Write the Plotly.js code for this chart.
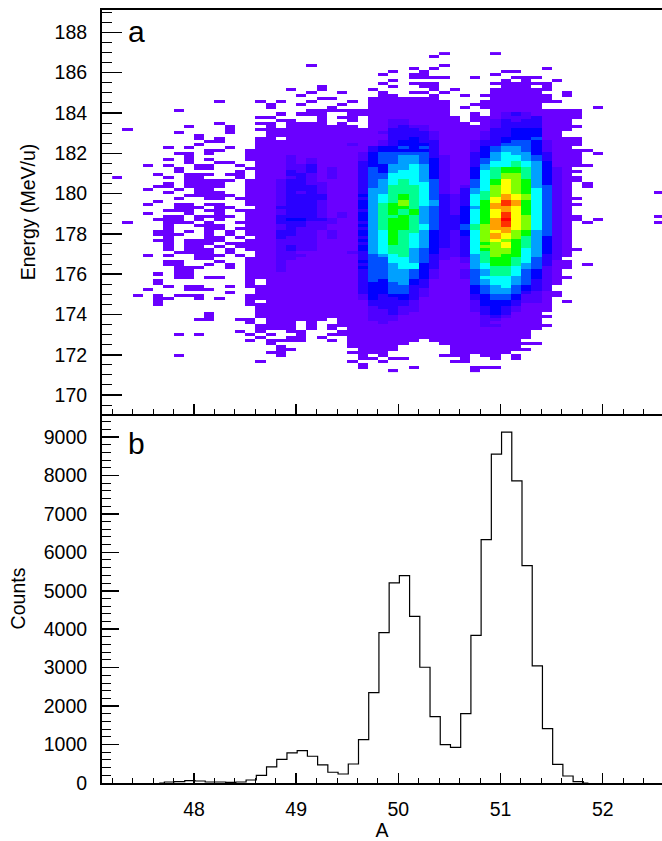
<!DOCTYPE html>
<html><head><meta charset="utf-8">
<script src="https://cdn.plot.ly/plotly-3.0.1.min.js"></script>
<style>html,body{margin:0;padding:0;background:#fff}</style></head>
<body><div id="chart" style="width:662px;height:841px"></div>
<script>
// Panel b: counts per 0.1 A bin
const binCenters = [47.66,47.76,47.86,47.96,48.06,48.16,48.26,48.36,48.46,48.56,48.66,48.76,48.86,48.96,49.06,49.16,49.26,49.36,49.46,49.56,49.66,49.76,49.86,49.96,50.06,50.16,50.26,50.36,50.46,50.56,50.66,50.76,50.86,50.96,51.06,51.16,51.26,51.36,51.46,51.56,51.66,51.76,51.86];
const binCounts = [0,26,35,60,52,26,26,17,26,78,200,417,617,783,843,696,470,280,234,494,1127,2350,3911,5204,5395,4336,3010,1726,997,928,1804,3842,6331,8551,9124,7858,5655,3044,1414,486,182,35,0];
// Panel a: one string per energy row (top to bottom), one character per 0.1 A column from 47.2.
// '.' = empty, 1-9,a-e = intensity level. Spaces only group the columns by ten.
const energyRows = [
".......... .......... .......... ..1....1..",
".......... .......... .......... .1........",
"",
"",
".......... .........1 .......... ..1.......",
".......... .......... .........1 .1........ ..1.......",
".......... .......... .......1.. 1.......11",
".......... .......... ......1..1 1......1..",
".......... .......... .........1 111..1...1 11........",
".......... .......... .......1.. ........1. 1..1......",
".......... .......... ......1..1 11.....111 111.......",
".......... .......... 1......1.. 11......11 1.1.......",
".......... .......1.. 1....1.... .1.1...111 111.......",
".......... .........1 ..1...1..1 1.1....111 11..1.....",
".......... ........1. ......11.. .1..1.1111 111.1.....",
".......... .......... 11...11111 11.....111 111.......",
".......... 1...1.1..1 ...1.11111 111...1111 1111......",
".......... .....1..1. ..1..11111 111..11111 11........",
".......... .....1.... .1...11111 111.1.1111 11.....1..",
"......1... .........1 1111111111 111....111 111111....",
".......... ......1.11 1..1111111 111..1.123 211111....",
".......... ....11.... 1.11.11111 1111.11122 231111....",
".......... ......11.. 1..1.11221 1111.11232 33111.....",
".......... 1...11.111 1.1..11221 11111.1233 33111.....",
".......1.. .1...1.111 1111.11232 2111111233 331111....",
".1........ .1..111111 1111111333 2111111334 44111.....",
"......1... .1...11111 1111112333 3211112334 4411......",
"........1. .....11111 1111111333 3211112334 4411......",
"........1. 1...11.111 1111111334 3211112344 451111....",
".........1 1...111111 1111112344 3311123345 542111....",
"........1. ....111111 1112112344 4311123355 542111....",
".....1.1.. .1..111111 1111134454 5311124566 54211.....",
".........1 1..1111111 1111134444 4311124566 5421111...",
"......11.1 ...1111111 1111245555 5311134676 643111.1..",
".......1.. ...1111211 1111245566 5321134677 653111....",
".....1.1.1 ...1111212 1111245566 5421135677 653111....",
".......1.. 11..111212 1111345566 5421135778 764111....",
"...1.1..11 ..1.111223 1111344667 6421136778 7641111...",
"......1.11 ...1111223 1211354667 6421146899 86421.....",
"......1... ..1.111323 1211354677 6421147899 864211....",
"....1..111 .11.111332 1211355777 64211478aa 86421.....",
"1....1.11. ..1.111232 1211355777 64211478aa 864211....",
".......111 11.1112332 1111356787 65211579ba 964211....",
".....1.111 1..1112332 2111356787 75211579ba 96421.1...",
"....11.111 1..1112333 2111356888 7521257aba 96521.1...",
"...1..1.11 ...1112333 2111366888 7521367aba 97521.....",
".....1..11 1..1112323 2111366888 7521368aba 97521..... ...1",
".......111 11.1112333 3111467898 7532378acb a7521.....",
"......1..1 1.11112333 3111367898 7532378bcb a75211....",
"....1..... ...1112333 21114678a8 7632379bdc 97521.....",
"...1..11.1 1..1112333 21114689a8 7632379cdc 975211....",
"......111. 11..113333 2111468998 6532469ccb 97521.....",
".....111.1 1.11112333 2111368989 6532479bcb 97521.....",
"...1...1.. 1..1112333 2121468989 6532479bdb 97521.....",
".....11.11 11.1113333 2121468898 6533479bdb a75211.... ...1",
"....111.1. 1..1113443 3211468998 6533479ceb a75211.1..",
".1...111.1 ..11113332 2211368998 6533479cdb a7521.1... ...1",
".....1..11 1..1112332 2111468998 753358acdb a7521.....",
".....1...1 1.11112322 2111368998 753358accb a7521.....",
"....11.1.1 .1.1113322 1211467988 643247abca 96521.....",
"....111..1 .1.1113322 1211467987 643247acba 96521.....",
".....1...1 1.1.113222 1211367987 643237acba 86421.....",
"....11.111 1..1112222 1111467987 643237aba9 86421.....",
".....1.111 .111112222 1111367987 6432379ab9 86421.....",
".....1.11. 1.11112322 1111467887 643237aab9 86421.....",
".....1.111 .1.1112322 1111467886 5422379aa9 764211....",
"......1111 .1..112211 1112367886 5422378aa9 76421.....",
"...1.1..11 1.1.112221 1111356786 5322368a99 76321.....",
"........11 ...1112211 1111355776 5321268998 7532......",
".....11... 1..1112111 1111455776 5311268998 75311.....",
".....11..1 .1.1112111 1111355677 4311167998 65311.1...",
"......111. .1.1112111 1111455677 4311167887 65211.....",
"......11.. ...1112111 1111355665 4211256887 5421......",
"....1.11.. ...1111111 1111355665 4211256887 5421......",
"......11.1 1..1111111 1111355665 4211257776 54211.....",
"....1..... ...1.11111 1111354664 3111156776 5321......",
"....1..... ...1.11111 1111344564 3111156776 5321......",
".....1.11. .1.1111111 1111344553 3111145675 432.......",
"...1...111 ....111111 1111344553 2111145665 432.......",
".......... .1..111111 1111344553 2111145665 3211......",
"..1.1.111. ...1111111 1111243443 2111134554 2211......",
"....11..1. 1..1111111 1111243343 1111134554 221.......",
"....1..... ...1.11111 1111133332 1111124443 221.1.....",
"....1..... ...1111111 1111133332 1111124443 111.......",
".......... ....111111 1111123322 1111123432 111.......",
".......... ....111111 1111122322 1111123432 111.......",
".........1 ....111111 1111122321 1111113431 11........",
".........1 ....111111 1111122211 1111112321 111.......",
"........11 ..11.11111 1.11122211 1111112211 11........",
".......... ...1.111.1 ..11112111 1111112111 11........",
".......... ....1111.1 .111111111 1111112211 111.......",
".......... ....1111.1 .1.1111111 1111111111 11........",
".......... ..1.1..11. ..11111111 1111111111 1.........",
"......1.1. ...1.1..1. .111111111 1111111111 1.........",
".......... ....1..11. 1..1111111 1111111111 1.........",
".......... ...1.1111. .1.1111111 .111111111",
".......... .....1.... ...111111. ..11111111 11........",
".......... ......1... ...11111.. ...1111111",
".......... ......11.. ....1111.. ...1111111 1.........",
".......... .....11... ...1111... ...111111.",
"......1... ......1... ....1.1... ..111.11.1",
".......... .......... ....11.11. ....1..1.1",
".......... ....1..... ...1..1... ...11.....",
".......... .......... ....1.....",
".......... .......... ....1....1 .....111..",
".......... .......... .......1.. .....1....",
];
const levelColors = ["#6a00ff","#4f00ff","#2a00ff","#0000ff","#0050ff","#00a0ff","#00ffff","#00ff90","#00ff00","#80ff00","#ffff00","#ffa000","#ff3000","#ff0000"];
const xTickLabels = ["48","49","50","51","52"];
const energyTickLabels = ["170","172","174","176","178","180","182","184","186","188"];
const countTickLabels = ["0","1000","2000","3000","4000","5000","6000","7000","8000","9000"];

const nCols = 54;
const z = energyRows.map(r => {
  const s = r.replace(/ /g,"");
  const out = [];
  for (let i=0;i<nCols;i++){ const c = s[i]; out.push(c===undefined||c==="."?null:parseInt(c,16)); }
  return out;
});
const n = levelColors.length;
const cs = [];
levelColors.forEach((c,i)=>{ cs.push([i/n,c]); cs.push([(i+1)/n,c]); });

const W=662,H=841;
const font = {family:'"Liberation Sans",Arial,sans-serif',size:19.5,color:'#000'};
const axisBase = {showgrid:false,zeroline:false,showline:true,linewidth:2,linecolor:'#000',ticks:'inside',tickcolor:'#000',tickwidth:1.5};
const xRange=[47.1,52.58];
const xMinor={dtick:0.2,ticklen:5,ticks:'inside',tickcolor:'#000',tickwidth:1,showgrid:false};

const traces = [
 {type:'heatmap',z:z,x0:47.25,dx:0.1,y0:186.945,dy:-0.15,colorscale:cs,zmin:0.5,zmax:n+0.5,showscale:false,zsmooth:false,hoverongaps:false,xaxis:'x',yaxis:'y'},
 {type:'scatter',mode:'lines',x:binCenters,y:binCounts,line:{shape:'hvh',color:'#000',width:1.2},xaxis:'x2',yaxis:'y2'}
];
const layout = {
 width:W,height:H,margin:{l:0,r:0,t:0,b:0,pad:0},paper_bgcolor:'#fff',plot_bgcolor:'rgba(0,0,0,0)',font:font,showlegend:false,
 xaxis:Object.assign({},axisBase,{domain:[102/W,1],range:xRange,anchor:'y',mirror:true,tick0:48,dtick:1,ticklen:10,showticklabels:false,minor:xMinor}),
 yaxis:Object.assign({},axisBase,{domain:[1-414/H,1-10/H],range:[169.06,189.11],anchor:'x',tickmode:'array',tickvals:energyTickLabels.map(Number),ticktext:energyTickLabels,ticklen:20,ticklabelstandoff:9,
   minor:{dtick:0.5,ticklen:10,ticks:'inside',tickcolor:'#000',tickwidth:1,showgrid:false},title:{text:'Energy (MeV/u)',font:{size:19.5},standoff:14}}),
 xaxis2:Object.assign({},axisBase,{domain:[102/W,1],range:xRange,anchor:'y2',tick0:48,dtick:1,ticklen:10,ticklabelstandoff:8,minor:xMinor,title:{text:'A',font:{size:19.5},standoff:5}}),
 yaxis2:Object.assign({},axisBase,{domain:[1-783/H,1-414/H],range:[0,9597],anchor:'x2',tickmode:'array',tickvals:countTickLabels.map(Number),ticktext:countTickLabels,ticklen:17,ticklabelstandoff:9,
   minor:{dtick:200,ticklen:9,ticks:'inside',tickcolor:'#000',tickwidth:1,showgrid:false},title:{text:'Counts',font:{size:19.5},standoff:13}}),
 annotations:[
  {text:'a',xref:'paper',yref:'paper',x:126/W,y:1-31/H,xanchor:'left',yanchor:'middle',showarrow:false,font:{size:30,color:'#000'}},
  {text:'b',xref:'paper',yref:'paper',x:126/W,y:1-444/H,xanchor:'left',yanchor:'middle',showarrow:false,font:{size:30,color:'#000'}}
 ]
};
Plotly.newPlot('chart',traces,layout,{displayModeBar:false,staticPlot:true});
</script></body></html>
